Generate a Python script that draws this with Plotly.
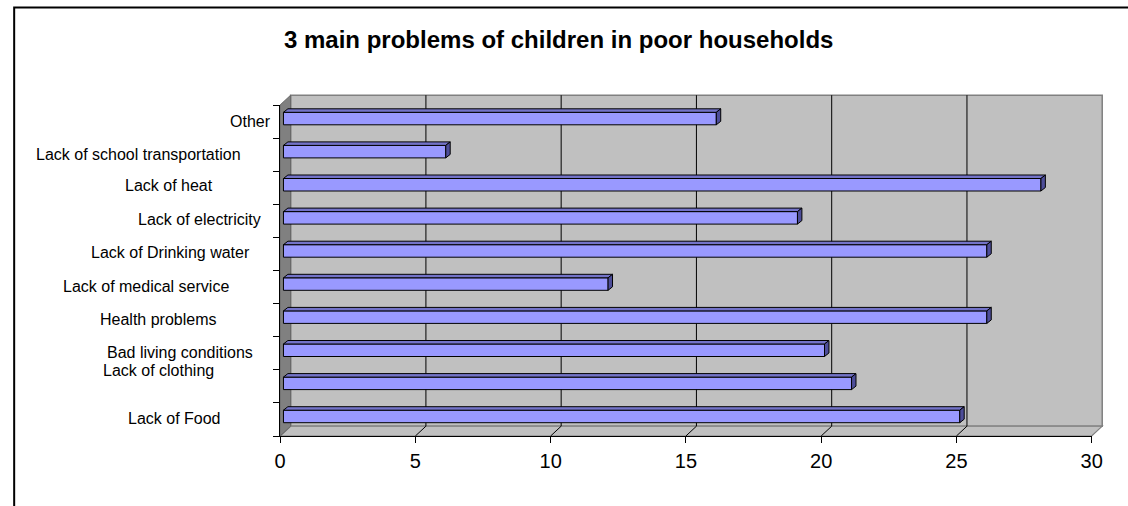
import plotly.graph_objects as go

# ---------------- data ----------------
categories = [
    "Lack of Food",
    "Lack of clothing",
    "Bad living conditions",
    "Health problems",
    "Lack of medical service",
    "Lack of Drinking water",
    "Lack of electricity",
    "Lack of heat",
    "Lack of school transportation",
    "Other",
]
values = [25, 21, 20, 26, 12, 26, 19, 28, 6, 16]
x_ticks = [0, 5, 10, 15, 20, 25, 30]
title_text = "3 main problems of children in poor households"

# ---------------- layout / style constants (reference-image pixels) ----------------
W, H = 1128, 506

X0PX, XENDPX = 278.3, 1102.3          # pixel of x=0 and x=30 on the front axis
XMAX = x_ticks[-1]
YTOPPX, YBOTPX = 105.0, 436.0         # category band top / bottom
N = len(categories)
PPX = (XENDPX - X0PX) / XMAX
PPY = (YBOTPX - YTOPPX) / N

AL, AR, AT, AB = 266.0, 1122.0, 86.0, 446.0   # extended drawing area for 3-D walls

WALL_DX, WALL_DY = 10.7, 9.8
BAR_FRONT_DX, BAR_FRONT_DY = 3.4, 3.0
BAR_DEPTH_DX, BAR_DEPTH_DY = 4.5, 3.5
BAR_H = 12.5

# label placement (pixel centres) and vertical nudges
label_cx = [171, 155, 177, 155, 142, 167, 196, 165, 135, 248]
label_shift = [1, 16, 1, 1, 1, 1, 1, 2.5, 0.5, 0.5]

FONT = "Arial, Liberation Sans, sans-serif"
FRONT_COL = "#9999FF"
TOP_COL = "#7373C8"
SIDE_COL = "#4D4D99"
WALL_COL = "#C0C0C0"
SIDE_WALL_COL = "#808080"


def fx(px):
    return px / W


def fy(py):
    return 1 - py / H


def dxu(px):
    return px / PPX


def dyu(px):
    return px / PPY


xr = [-(X0PX - AL) / PPX, XMAX + (AR - XENDPX) / PPX]
yr = [-0.5 - (AB - YBOTPX) / PPY, N - 0.5 + (YTOPPX - AT) / PPY]

wdx, wdy = dxu(WALL_DX), dyu(WALL_DY)

shapes = []
# back wall
shapes.append(dict(type="rect", xref="x", yref="y", layer="below",
                   x0=wdx, x1=XMAX + wdx, y0=-0.5 + wdy, y1=N - 0.5 + wdy,
                   fillcolor=WALL_COL, line=dict(color="#808080", width=1.5)))
# floor
shapes.append(dict(type="path", xref="x", yref="y", layer="below",
                   path=f"M 0,-0.5 L {XMAX},-0.5 L {XMAX + wdx},{-0.5 + wdy} L {wdx},{-0.5 + wdy} Z",
                   fillcolor=WALL_COL, line=dict(color="#808080", width=1.2)))
# left side wall
shapes.append(dict(type="path", xref="x", yref="y", layer="below",
                   path=f"M 0,-0.5 L 0,{N - 0.5} L {wdx},{N - 0.5 + wdy} L {wdx},{-0.5 + wdy} Z",
                   fillcolor=SIDE_WALL_COL, line=dict(color="#666666", width=1)))
# grid lines on wall and floor
for t in x_ticks[1:-1]:
    shapes.append(dict(type="line", xref="x", yref="y", layer="below",
                       x0=t + wdx, x1=t + wdx, y0=-0.5 + wdy, y1=N - 0.5 + wdy,
                       line=dict(color="#000000", width=1)))
    shapes.append(dict(type="line", xref="x", yref="y", layer="below",
                       x0=t, x1=t + wdx, y0=-0.5, y1=-0.5 + wdy,
                       line=dict(color="#000000", width=1)))

# 3-D bar faces (top and side)
fdx, fdy = dxu(BAR_FRONT_DX), dyu(BAR_FRONT_DY)
bdx, bdy = dxu(BAR_DEPTH_DX), dyu(BAR_DEPTH_DY)
hh = dyu(BAR_H) / 2
for i, v in enumerate(values):
    yc = i + fdy
    yt, yb = yc + hh, yc - hh
    x0, x1 = fdx, fdx + v
    shapes.append(dict(type="path", xref="x", yref="y", layer="above",
                       path=f"M {x0},{yt} L {x1},{yt} L {x1 + bdx},{yt + bdy} L {x0 + bdx},{yt + bdy} Z",
                       fillcolor=TOP_COL, line=dict(color="#000000", width=1)))
    shapes.append(dict(type="path", xref="x", yref="y", layer="above",
                       path=f"M {x1},{yb} L {x1},{yt} L {x1 + bdx},{yt + bdy} L {x1 + bdx},{yb + bdy} Z",
                       fillcolor=SIDE_COL, line=dict(color="#000000", width=1)))

# outer chart frame (left and top edges visible)
shapes.append(dict(type="rect", xref="paper", yref="paper",
                   x0=fx(8.3), x1=1.2, y0=-0.2, y1=fy(7.5),
                   line=dict(color="#000000", width=2), fillcolor="rgba(0,0,0,0)"))

fig = go.Figure()
fig.add_trace(go.Bar(
    x=values, y=[i + fdy for i in range(N)], base=fdx, orientation="h",
    width=dyu(BAR_H), marker=dict(color=FRONT_COL, line=dict(color="#000000", width=1)),
    hoverinfo="skip", showlegend=False, xaxis="x", yaxis="y",
))
# invisible trace to carry the front axes
fig.add_trace(go.Scatter(x=[0, XMAX], y=[0, 0], mode="markers", marker=dict(opacity=0),
                         hoverinfo="skip", showlegend=False, xaxis="x2", yaxis="y2"))

annotations = []
for i, name in enumerate(categories):
    annotations.append(dict(text=name, xref="paper", yref="y2", x=fx(label_cx[i]), y=i,
                            yshift=label_shift[i], xanchor="center", yanchor="middle",
                            showarrow=False, font=dict(family=FONT, size=16, color="#000000")))
annotations.append(dict(text=f"<b>{title_text}</b>", xref="paper", yref="paper",
                        x=fx(280), y=fy(40), xanchor="left", yanchor="middle",
                        showarrow=False, font=dict(family=FONT, size=24, color="#000000")))

fig.update_layout(
    width=W, height=H,
    margin=dict(l=0, r=0, t=0, b=0),
    paper_bgcolor="#FFFFFF", plot_bgcolor="rgba(0,0,0,0)",
    font=dict(family=FONT, color="#000000"),
    showlegend=False,
    barmode="overlay",
    hovermode=False,
    xaxis=dict(domain=[fx(AL), fx(AR)], range=xr, visible=False, anchor="y", fixedrange=True),
    yaxis=dict(domain=[fy(AB), fy(AT)], range=yr, visible=False, anchor="x", fixedrange=True),
    xaxis2=dict(domain=[fx(X0PX), fx(XENDPX)], range=[0, XMAX], anchor="y2", fixedrange=True,
                tickmode="array", tickvals=x_ticks, ticktext=[str(t) for t in x_ticks],
                ticks="outside", ticklen=6, tickcolor="#000000", tickwidth=1,
                showline=True, linecolor="#000000", linewidth=1.2,
                showgrid=False, zeroline=False, ticklabelstandoff=1,
                tickfont=dict(family=FONT, size=20, color="#000000")),
    yaxis2=dict(domain=[fy(YBOTPX), fy(YTOPPX)], range=[-0.5, N - 0.5], anchor="x2", fixedrange=True,
                tickmode="array", tickvals=[i - 0.5 for i in range(N + 1)],
                ticks="outside", ticklen=6, tickcolor="#000000", tickwidth=1,
                showticklabels=False, showline=True, linecolor="#000000", linewidth=1.2,
                showgrid=False, zeroline=False),
    shapes=shapes,
    annotations=annotations,
)

fig.write_html(
    "out.html",
    config={"displayModeBar": False, "staticPlot": True},
    post_script="document.body.style.margin='0';document.body.style.overflow='hidden';",
)
